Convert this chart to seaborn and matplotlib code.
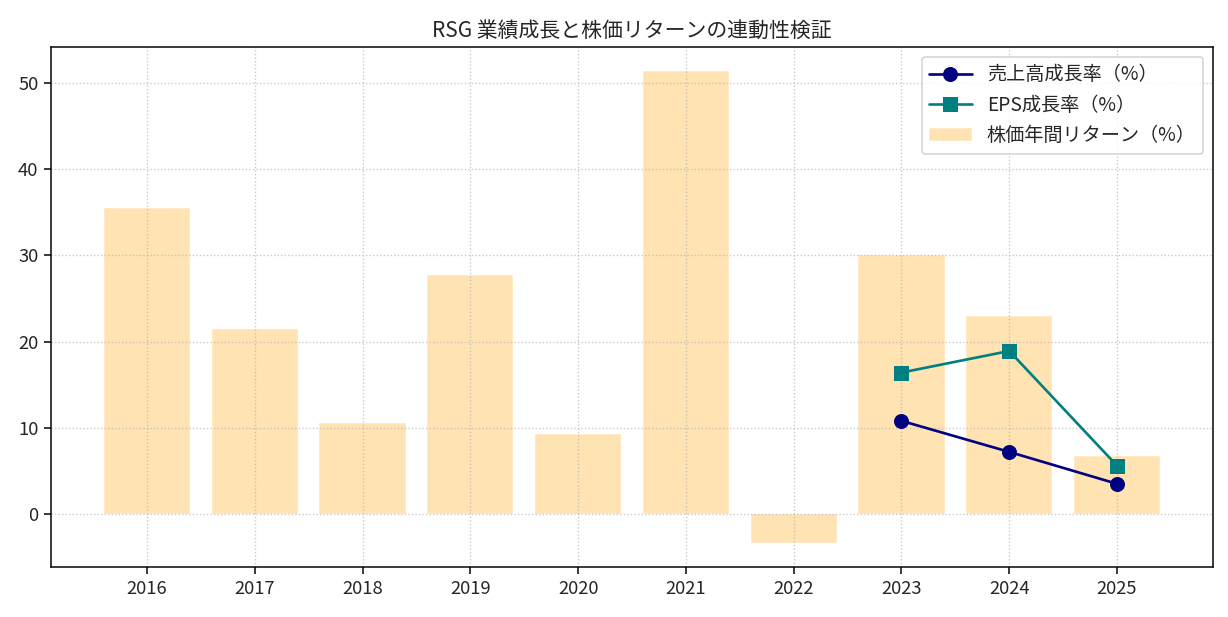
import matplotlib
matplotlib.use("Agg")
import matplotlib.pyplot as plt
import seaborn as sns
import numpy as np

years = [2016, 2017, 2018, 2019, 2020, 2021, 2022, 2023, 2024, 2025]
stock_return = [35.5, 21.4, 10.5, 27.7, 9.3, 51.4, -3.4, 30.0, 23.0, 6.7]
growth_years = [2023, 2024, 2025]
revenue_growth = [10.8, 7.2, 3.5]
eps_growth = [16.4, 18.9, 5.6]

title = "RSG 業績成長と株価リターンの連動性検証"
label_rev = "売上高成長率（%）"
label_eps = "EPS成長率（%）"
label_ret = "株価年間リターン（%）"

sns.set_style("white")
plt.rcParams['font.family'] = ['Noto Sans CJK JP', 'DejaVu Sans']

fig = plt.figure(figsize=(1228 / 120, 617 / 120), dpi=120)
ax = fig.add_axes([51 / 1228, 1 - 567 / 617, (1213 - 51) / 1228, (567 - 47) / 617])

sns.barplot(x=years, y=stock_return, native_scale=True, color='orange', alpha=0.3,
            width=0.8, errorbar=None, label=label_ret, ax=ax, saturation=1)
sns.lineplot(x=growth_years, y=revenue_growth, marker='o', color='navy', markersize=9,
             markeredgewidth=0, linewidth=1.6, label=label_rev, ax=ax)
sns.lineplot(x=growth_years, y=eps_growth, marker='s', color='teal', markersize=9,
             markeredgewidth=0, linewidth=1.6, label=label_eps, ax=ax)

ax.set_xticks(years)
ax.set_xticklabels([str(y) for y in years])
ax.set_xlabel("")
ax.set_ylabel("")
ax.grid(True, linestyle=':', color='#b0b0b0', alpha=0.7)
ax.set_axisbelow('line')
for s in ax.spines.values():
    s.set_color('black')
    s.set_linewidth(0.9)
ax.tick_params(axis='both', which='both', length=4, width=0.9, color='black',
               labelsize=11, bottom=True, left=True)
ax.set_title(title, fontsize=12.5)

handles, labels = ax.get_legend_handles_labels()
order = [labels.index(l) for l in [label_rev, label_eps, label_ret]]
ax.legend([handles[i] for i in order], [labels[i] for i in order], loc='upper right',
          fontsize=11.5, handlelength=2.2)

fig.savefig("out.png", dpi=120)
